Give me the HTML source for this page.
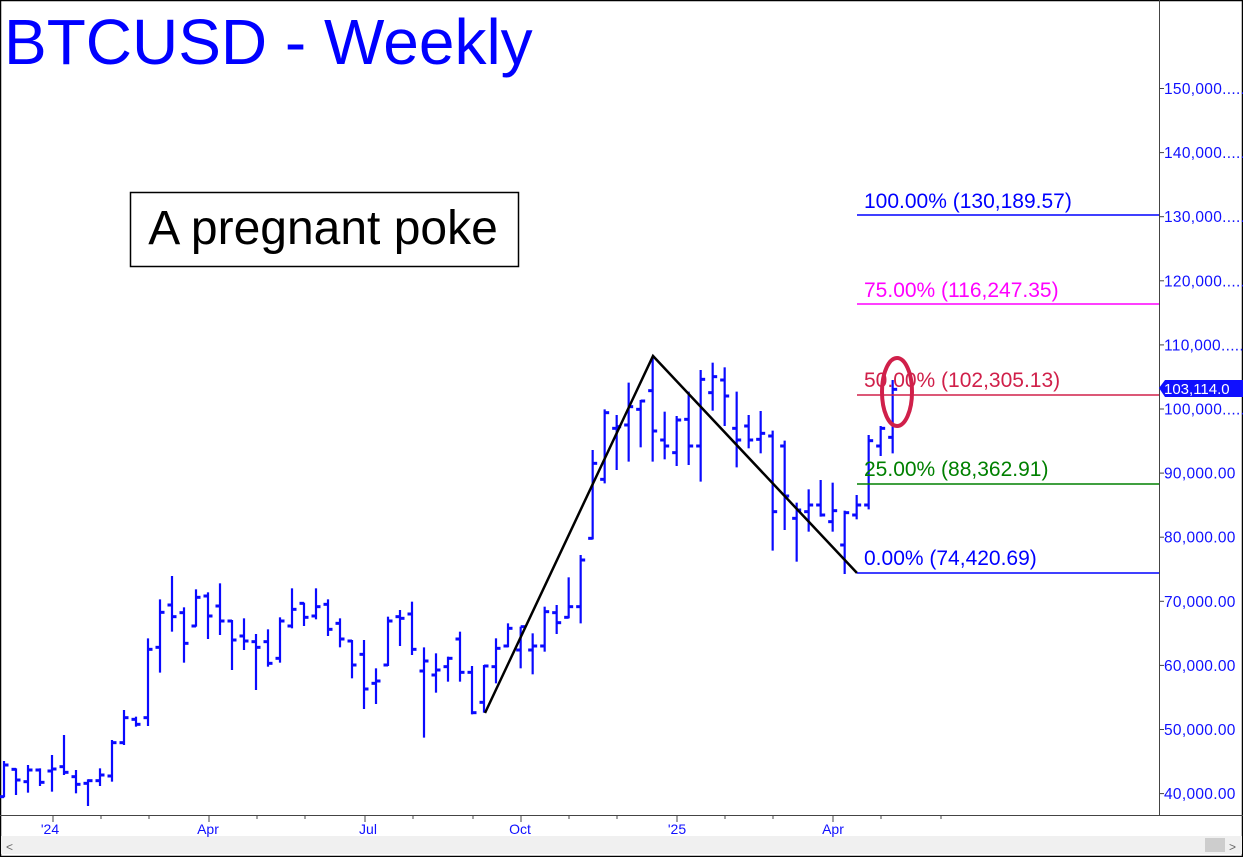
<!DOCTYPE html>
<html><head><meta charset="utf-8"><style>
body{margin:0;background:#fff;}
svg{display:block;font-family:"Liberation Sans",sans-serif;}
</style></head><body>
<svg id="s" width="1243" height="857" xmlns="http://www.w3.org/2000/svg">
<rect x="0" y="0" width="1243" height="857" fill="#fff"/>
<rect x="0.5" y="0.5" width="1242" height="856" fill="none" stroke="#000" stroke-width="1.5"/>
<line x1="1159.5" y1="0" x2="1159.5" y2="815" stroke="#444" stroke-width="1"/>
<line x1="0" y1="815.5" x2="1243" y2="815.5" stroke="#444" stroke-width="1"/>
<rect x="1" y="836" width="1241" height="18" fill="#f0f0f0"/>
<rect x="1205" y="838" width="20" height="14" fill="#cdcdcd"/>
<text x="6" y="851" font-size="12" fill="#666">&lt;</text>
<text x="1229" y="851" font-size="12" fill="#666">&gt;</text>
<g id="yax" font-size="15.5" fill="#1010ff" letter-spacing="0.3"></g>
<g id="yt" stroke="#444" stroke-width="1"></g>
<g font-size="14" fill="#1010ff" text-anchor="middle">
<text x="50" y="834">'24</text><text x="208" y="834">Apr</text><text x="368" y="834">Jul</text>
<text x="520" y="834">Oct</text><text x="677" y="834">'25</text><text x="833" y="834">Apr</text>
</g>
<g stroke="#444" stroke-width="1">
<line x1="53" y1="815" x2="53" y2="822"/><line x1="101" y1="815" x2="101" y2="819"/><line x1="149" y1="815" x2="149" y2="819"/>
<line x1="209" y1="815" x2="209" y2="822"/><line x1="257" y1="815" x2="257" y2="819"/><line x1="305" y1="815" x2="305" y2="819"/>
<line x1="365" y1="815" x2="365" y2="822"/><line x1="413" y1="815" x2="413" y2="819"/><line x1="473" y1="815" x2="473" y2="819"/>
<line x1="521" y1="815" x2="521" y2="822"/><line x1="569" y1="815" x2="569" y2="819"/><line x1="617" y1="815" x2="617" y2="819"/>
<line x1="677" y1="815" x2="677" y2="822"/><line x1="725" y1="815" x2="725" y2="819"/><line x1="773" y1="815" x2="773" y2="819"/>
<line x1="833" y1="815" x2="833" y2="822"/><line x1="881" y1="815" x2="881" y2="819"/><line x1="941" y1="815" x2="941" y2="819"/>
</g>
<g id="bars" stroke="#0a0aff" stroke-width="2.2" fill="none"></g>
<polyline points="485,713 653,356 857,573" fill="none" stroke="#000" stroke-width="2.5"/>
<line x1="857" y1="215" x2="1159" y2="215" stroke="#0000ff" stroke-width="1.5"/>
<line x1="857" y1="304" x2="1159" y2="304" stroke="#ff00ff" stroke-width="1.5"/>
<line x1="857" y1="395" x2="1159" y2="395" stroke="#d0204a" stroke-width="1.5"/>
<line x1="857" y1="484" x2="1159" y2="484" stroke="#008000" stroke-width="1.5"/>
<line x1="857" y1="573" x2="1159" y2="573" stroke="#0000ff" stroke-width="1.5"/>
<g font-size="21">
<text x="864" y="208" fill="#0000ff">100.00% (130,189.57)</text>
<text x="864" y="297" fill="#ff00ff">75.00% (116,247.35)</text>
<text x="864" y="387" fill="#d0204a">50.00% (102,305.13)</text>
<text x="864" y="476" fill="#008000">25.00% (88,362.91)</text>
<text x="864" y="565" fill="#0000ff">0.00% (74,420.69)</text>
</g>
<ellipse cx="897" cy="392" rx="15" ry="34" fill="none" stroke="#d0204a" stroke-width="4"/>
<path d="M1159,388 L1165,380 L1243,380 L1243,397 L1165,397 Z" fill="#1010ff"/>
<text x="1164" y="394" font-size="15" fill="#fff">103,114.0</text>
<text x="4" y="64" font-size="64" fill="#0000ff">BTCUSD - Weekly</text>
<rect x="130.5" y="192.5" width="388" height="74" fill="#fff" stroke="#000" stroke-width="1.5"/>
<text x="323" y="244" font-size="48" fill="#000" text-anchor="middle">A pregnant poke</text>
</svg>
<script>
var NS="http://www.w3.org/2000/svg";
function L(g,x1,y1,x2,y2,w){var l=document.createElementNS(NS,"line");l.setAttribute("x1",x1);l.setAttribute("y1",y1);l.setAttribute("x2",x2);l.setAttribute("y2",y2);if(w)l.setAttribute("stroke-width",w);g.appendChild(l);return l;}
var g=document.getElementById("bars");
var a=[[603,712,710,615],[625,705,628,660],[615,698,665,630],[625,678,630,667],[585,695,633,627],[525,645,620,637],[630,700,650,673],[658,738,670,662],[625,678,662,645],[540,665,648,548],[450,555,548,473],[470,500,478,493],[235,498,473,268],[118,338,262,157],[48,215,135,170],[142,308,158,250],[88,200,198,112],[97,237,108,168],[70,225,138,183],[180,330,183,240],[175,270,228,243],[222,390,245,262],[208,320,245,310],[172,308,295,183],[85,205,198,148],[128,198,130,172],[85,178,168,140],[118,228,133,208],[175,262,190,237],[240,355,243,315],[240,447,283,387],[325,432,370,363],[170,318,315,183],[150,258,170,175],[125,285,162,268],[262,533,333,303],[280,398,345,330],[290,365,320,295],[215,365,237,337],[318,463,337,458],[315,458,427,318],[235,370,320,265],[190,262,258,205]];
a.forEach(function(b,i){var x=4+12*i;var f=function(z){return 560+z/3};
L(g,x,f(b[0]),x,f(b[1]));L(g,x-4.5,f(b[2]),x,f(b[2]),3);L(g,x,f(b[3]),x+4.5,f(b[3]),3);});
var c=[[152,860,985,930,860],[188,880,1003,930,918],[224,800,935,918,815],[260,795,882,818,848],[296,712,835,832,800],[332,645,850,800,660],[368,330,598,595,370],[404,208,430,418,218],[440,225,390,265,260],[476,128,365,255,200],[512,180,322,208,183],[548,48,365,152,273],[584,215,358,300,318],[620,228,378,338,240],[656,155,375,238,318],[692,90,425,318,118],[728,68,212,158,110],[764,82,258,120,168],[800,155,382,265,300],[836,225,325,258,300],[872,213,340,298,280],[908,272,632,288,515],[944,302,570,318,468],[980,488,665,535,510],[1016,448,575,515,495],[1052,420,530,495,525],[1088,428,575,545,512],[1124,512,702,615,518],[1160,465,538,525,495],[1196,285,508,495,302],[1232,258,348,318,265],[1268,120,340,292,148]];
c.forEach(function(b){var x=470+b[0]/3;var f=function(z){return 340+z/3};
L(g,x,f(b[1]),x,f(b[2]));L(g,x-4.5,f(b[3]),x,f(b[3]),3);L(g,x,f(b[4]),x+4.5,f(b[4]),3);});
var y=document.getElementById("yax"),yt=document.getElementById("yt");
var labs=["150,000.....","140,000.....","130,000.....","120,000.....","110,000.....","100,000.....","90,000.00","80,000.00","70,000.00","60,000.00","50,000.00","40,000.00"];
labs.forEach(function(t,i){var yy=88.5+i*64.1;
L(yt,1159,yy,1164,yy,1);
var tx=document.createElementNS(NS,"text");tx.setAttribute("x",1164);tx.setAttribute("y",yy+5.5);tx.textContent=t;y.appendChild(tx);});
</script>
</body></html>
